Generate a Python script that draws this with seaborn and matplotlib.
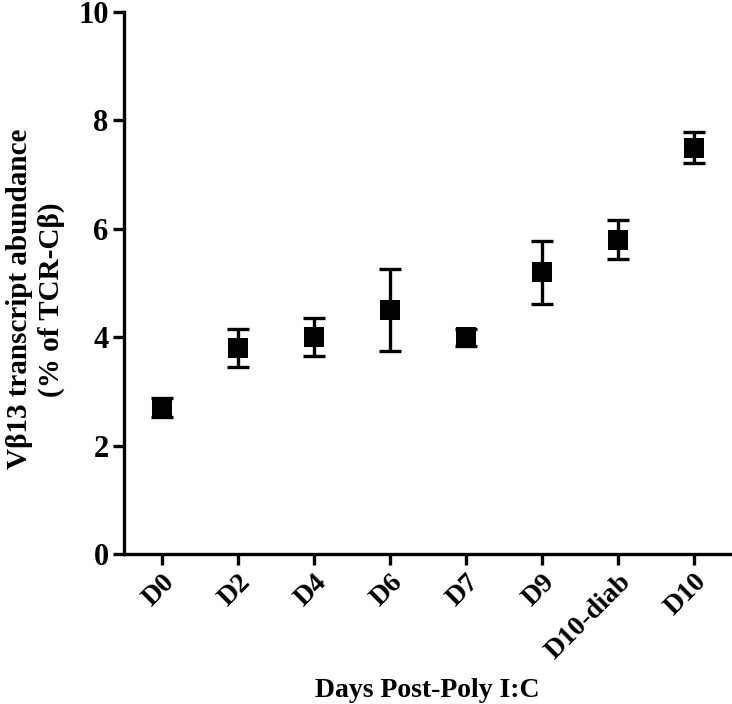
import matplotlib
matplotlib.use("Agg")
import matplotlib.pyplot as plt
import seaborn as sns
import pandas as pd

categories = ["D0", "D2", "D4", "D6", "D7", "D9", "D10-diab", "D10"]
means = [2.7, 3.8, 4.0, 4.5, 4.0, 5.2, 5.8, 7.5]
errors = [0.17, 0.35, 0.35, 0.75, 0.16, 0.58, 0.36, 0.28]
yticks = [0, 2, 4, 6, 8, 10]

sns.set_style("ticks")
plt.rcParams['font.family'] = ['Liberation Serif', 'DejaVu Serif']
plt.rcParams['font.weight'] = 'bold'
plt.rcParams['text.color'] = 'black'
plt.rcParams['axes.labelcolor'] = 'black'
plt.rcParams['xtick.color'] = 'black'
plt.rcParams['ytick.color'] = 'black'

df = pd.DataFrame({"day": categories, "value": means, "err": errors})

fig = plt.figure(figsize=(7.32, 7.04), dpi=100)
ax = fig.add_axes([124/732, (704-554)/704, (730-124)/732, 542/704])

xpos = list(range(len(categories)))
ax.errorbar(xpos, df["value"], yerr=df["err"], fmt='none', ecolor='black',
            elinewidth=2.4, capsize=8, capthick=2.4, zorder=2)
sns.scatterplot(x=xpos, y=df["value"], marker='s', s=210, color='black',
                edgecolor='black', linewidth=0, ax=ax, zorder=3)

ax.set_xlim(-0.5, 7.47)
ax.set_ylim(0, 10)
ax.set_yticks(yticks)
ax.set_yticklabels([str(t) for t in yticks], fontsize=22, fontweight='bold')
ax.set_xticks(xpos)
ax.set_xticklabels(categories, rotation=45, ha='right', rotation_mode='anchor',
                   fontsize=20, fontweight='bold')
for s in ['top', 'right']:
    ax.spines[s].set_visible(False)
for s in ['left', 'bottom']:
    ax.spines[s].set_linewidth(2.4)
    ax.spines[s].set_color('black')
ax.tick_params(axis='both', width=2.4, length=8, color='black', pad=3,
               labelcolor='black')

ax.set_xlabel("Days Post-Poly I:C", fontsize=20, fontweight='bold', labelpad=10,
              color='black')
ax.set_ylabel("Vβ13 transcript abundance\n(% of TCR-Cβ)", fontsize=21,
              fontweight='bold', color='black')
ax.yaxis.set_label_coords(-0.098, 0.47)

fig.savefig("out.png", dpi=100)
